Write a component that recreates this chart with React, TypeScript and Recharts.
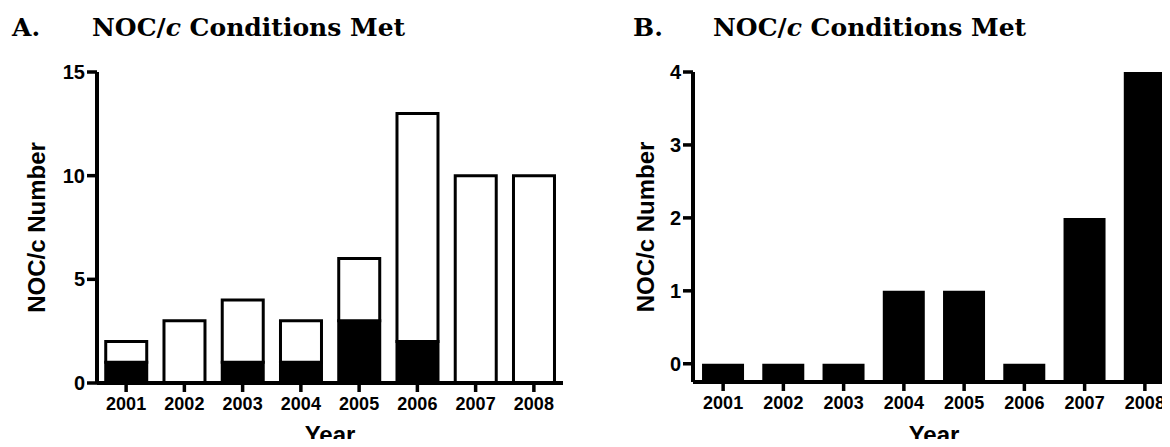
import { Bar, BarChart, XAxis, YAxis } from "recharts";

const years = ["2001", "2002", "2003", "2004", "2005", "2006", "2007", "2008"];

// panel A: total count per year and the filled (black) part of it
const totalA = [2, 3, 4, 3, 6, 13, 10, 10];
const filledA = [1, 0, 1, 1, 3, 2, 0, 0];
const ticksA = [0, 5, 10, 15];

// panel B
const valuesB = [0, 0, 0, 1, 1, 0, 2, 4];
const ticksB = [0, 1, 2, 3, 4];
const floorB = -0.25;

const dataA = years.map((year, i) => ({
  year,
  filled: filledA[i],
  open: totalA[i] - filledA[i],
}));

const dataB = years.map((year, i) => ({ year, value: valuesB[i] }));

const sans = "'Liberation Sans', Arial, sans-serif";
const serif = "'DejaVu Serif', serif";

const axisLine = { stroke: "#000", strokeWidth: 4 };
const tickLine = { stroke: "#000", strokeWidth: 3.5 };
const xTick = { fill: "#000", fontSize: 18, fontWeight: 700, fontFamily: sans };
const yTick = { fill: "#000", fontSize: 20, fontWeight: 700, fontFamily: sans };

const axisTitle = {
  fill: "#000",
  fontSize: 24,
  fontWeight: 700,
  fontFamily: sans,
};

function Title({ x, letter }: { x: number; letter: string }) {
  return (
    <g fontFamily={serif} fontWeight={700} fontSize={25} fill="#000">
      <text x={x} y={36}>
        {letter}
      </text>
      <text x={x + 80} y={36}>
        NOC/<tspan fontStyle="italic">c</tspan> Conditions Met
      </text>
    </g>
  );
}

export default function App() {
  return (
    <div
      style={{
        position: "relative",
        width: 1170,
        height: 447,
        margin: -8,
        overflow: "hidden",
        background: "#fff",
      }}
    >
      <svg
        width={1170}
        height={60}
        style={{ position: "absolute", left: 0, top: 0 }}
      >
        <Title x={12} letter="A." />
        <Title x={633} letter="B." />
      </svg>

      <div style={{ position: "absolute", left: 0, top: 0 }}>
        <BarChart
          width={580}
          height={447}
          data={dataA}
          margin={{ top: 72, right: 17, bottom: 0, left: 0 }}
          barCategoryGap="15%"
        >
          <XAxis
            dataKey="year"
            height={64}
            interval={0}
            axisLine={axisLine}
            tickLine={tickLine}
            tickSize={9}
            tickMargin={5}
            tick={xTick}
            label={{ value: "Year", position: "insideBottom", offset: 4, ...axisTitle }}
          />
          <YAxis
            width={97}
            domain={[0, 15]}
            ticks={ticksA}
            interval={0}
            axisLine={axisLine}
            tickLine={tickLine}
            tickSize={10}
            tickMargin={2}
            tick={yTick}
            label={{
              value: "NOC/c Number",
              angle: -90,
              position: "insideLeft",
              offset: 36,
              style: { textAnchor: "middle" },
              ...axisTitle,
            }}
          />
          <Bar
            dataKey="filled"
            stackId="a"
            fill="#000"
            stroke="#000"
            strokeWidth={3}
            isAnimationActive={false}
          />
          <Bar
            dataKey="open"
            stackId="a"
            fill="#fff"
            stroke="#000"
            strokeWidth={3}
            isAnimationActive={false}
          />
        </BarChart>
      </div>

      <div style={{ position: "absolute", left: 600, top: 0 }}>
        <BarChart
          width={580}
          height={447}
          data={dataB}
          margin={{ top: 72, right: 5, bottom: 0, left: 0 }}
          barCategoryGap="15%"
        >
          <XAxis
            dataKey="year"
            height={65}
            interval={0}
            axisLine={axisLine}
            tickLine={tickLine}
            tickSize={9}
            tickMargin={5}
            tick={xTick}
            label={{ value: "Year", position: "insideBottom", offset: 4, ...axisTitle }}
          />
          <YAxis
            width={93}
            domain={[floorB, 4]}
            ticks={ticksB}
            interval={0}
            axisLine={axisLine}
            tickLine={tickLine}
            tickSize={10}
            tickMargin={2}
            tick={yTick}
            label={{
              value: "NOC/c Number",
              angle: -90,
              position: "insideLeft",
              offset: 45,
              style: { textAnchor: "middle" },
              ...axisTitle,
            }}
          />
          <Bar
            dataKey={(d: { value: number }) => [floorB, d.value]}
            fill="#000"
            isAnimationActive={false}
          />
        </BarChart>
      </div>
    </div>
  );
}
